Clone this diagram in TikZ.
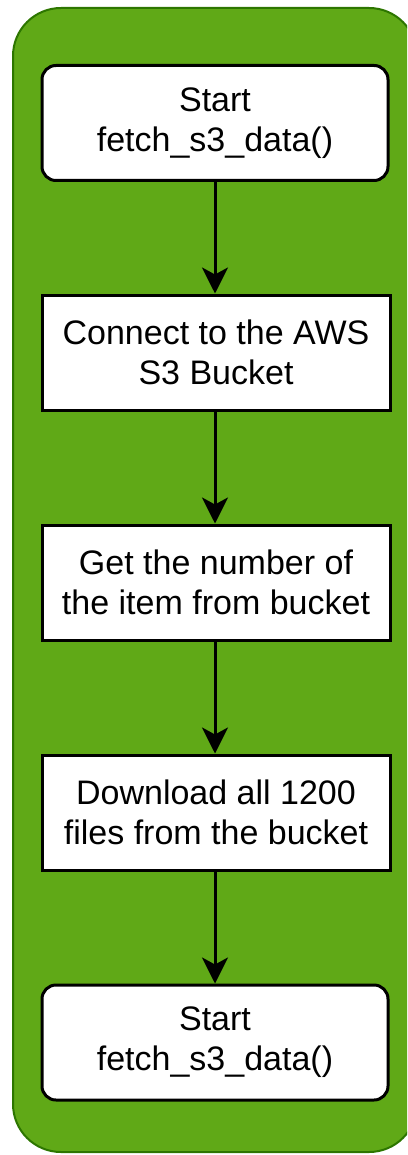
\documentclass[tikz,border=0pt]{standalone}
\usepackage{fontspec}
\setmainfont{Liberation Sans}
\usetikzlibrary{arrows.meta}
\definecolor{grfill}{HTML}{60A917}
\definecolor{grline}{HTML}{2D7600}
\begin{document}
\begin{tikzpicture}[x=1pt,y=-1pt,
  boxbase/.style={draw=black, line width=3pt, fill=white, minimum width=346pt, minimum height=115pt, align=center, inner sep=0pt, font=\fontsize{34}{40}\selectfont},
  roundbox/.style={boxbase, rounded corners=14pt},
  rectbox/.style={boxbase, minimum width=348pt},
  flow/.style={draw=black, line width=3pt, -{Stealth[length=26pt,width=26pt,inset=7pt]}}]
\useasboundingbox (0,0) rectangle (407,1155);
\begin{scope}
\clip (0,0) rectangle (407,1155);
\draw[fill=grfill, draw=grline, line width=2pt, rounded corners=48pt] (13,8) rectangle (417,1152);
\end{scope}
\node[roundbox] (n1) at (215,123) {Start\\fetch\_s3\_data()};
\node[rectbox] (n2) at (216,352.5) {Connect to the AWS\\S3 Bucket};
\node[rectbox] (n3) at (216,582.5) {Get the number of\\the item from bucket};
\node[rectbox] (n4) at (216,812.5) {Download all 1200\\files from the bucket};
\node[roundbox] (n5) at (215,1042.5) {Start\\fetch\_s3\_data()};
\draw[flow] (n1.south) -- (n1.south |- n2.north);
\draw[flow] (n1.south |- n2.south) -- (n1.south |- n3.north);
\draw[flow] (n1.south |- n3.south) -- (n1.south |- n4.north);
\draw[flow] (n1.south |- n4.south) -- (n5.north);
\end{tikzpicture}
\end{document}
